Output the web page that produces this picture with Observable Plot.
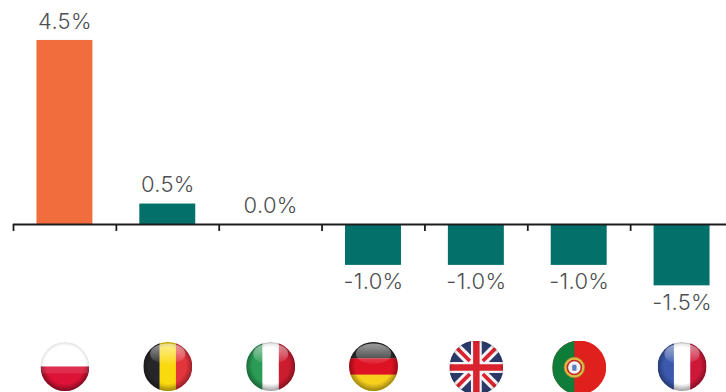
<!DOCTYPE html>
<html>
<head>
<meta charset="utf-8">
<style>
  html, body { margin: 0; padding: 0; background: #fff; }
  svg { display: block; }
</style>
<script src="https://cdn.jsdelivr.net/npm/d3@7"></script>
<script src="https://cdn.jsdelivr.net/npm/@observablehq/plot@0.6"></script>
</head>
<body>
<div id="chart"></div>
<script>
// Percentage change by country
const countries = ["Poland", "Belgium", "Italy", "Germany", "United Kingdom", "Portugal", "France"];
const changes = [4.5, 0.5, 0.0, -1.0, -1.0, -1.0, -1.5];

const rows = countries.map((country, i) => ({country, change: changes[i]}));

const width = 726;
const height = 392;
const rangeLeft = 13;
const rangeRight = 733;
const halfStep = (rangeRight - rangeLeft) / countries.length / 2;
const labelFont = {fontFamily: "Inter, 'DejaVu Sans', sans-serif", fontSize: 22, fontWeight: 300, fill: "#4d4f52"};

// Round flag artwork: each flag is a small SVG with a glossy sphere overlay
function stripes(list, vertical) {
  const n = list.length;
  return list.map((c, i) => vertical
    ? `<rect x="${i * 100 / n}" y="0" width="${100 / n + 0.5}" height="100" fill="${c}"/>`
    : `<rect x="0" y="${i * 100 / n}" width="100" height="${100 / n + 0.5}" fill="${c}"/>`).join("");
}
const gloss = `
  <circle cx="50" cy="50" r="50" fill="url(#edge)"/>
  <ellipse cx="50" cy="24" rx="36" ry="21" fill="url(#shine)"/>`;
const flat = `<circle cx="50" cy="50" r="50" fill="url(#soft)"/>`;

const unionJack = `
  <rect width="100" height="100" fill="#2b3a6b"/>
  <path d="M0 0L100 100M100 0L0 100" stroke="#f4f4f6" stroke-width="18"/>
  <path d="M8 8L38 38M92 8L62 38M8 92L38 62M92 92L62 62" stroke="#d9232e" stroke-width="7"/>
  <path d="M50 0V100M0 50H100" stroke="#f4f4f6" stroke-width="20"/>
  <path d="M50 0V100M0 50H100" stroke="#d9232e" stroke-width="12"/>`;

const portugal = `
  <rect width="100" height="100" fill="#e0201c"/>
  <rect width="41" height="100" fill="#0e7d3a"/>
  <circle cx="41" cy="50" r="19" fill="#e0bb45" stroke="#a8862a" stroke-width="1.5"/>
  <circle cx="41" cy="50" r="13" fill="#f3f3f3" stroke="#c22a2a" stroke-width="3"/>
  <rect x="37" y="45" width="8" height="11" rx="2" fill="#5a7fc0"/>`;

const flagArt = {
  // White upper half nearly blends into the page; the shading is strongest on the red half
  "Poland": stripes(["#ffffff", "#dc1236"]) +
    `<circle cx="50" cy="50" r="50" fill="url(#soft)"/>` +
    `<path d="M0 50H100V100H0Z" fill="url(#edge)"/><rect x="0" y="50" width="100" height="14" fill="#fff" opacity="0.12"/>`,
  "Belgium": stripes(["#26262a", "#fbd90f", "#e4343c"], true) + gloss,
  "Italy": stripes(["#2a9c55", "#ffffff", "#cc1c30"], true) + gloss,
  "Germany": stripes(["#2b2b2b", "#dd1222", "#f7cf1d"]) + gloss,
  "United Kingdom": unionJack + flat,
  "Portugal": portugal,
  "France": stripes(["#3a59ad", "#ffffff", "#cf1838"], true) + gloss
};

function flagUrl(country) {
  const svg = `<svg xmlns="http://www.w3.org/2000/svg" viewBox="0 0 100 100" width="200" height="200">
    <defs>
      <clipPath id="disc"><circle cx="50" cy="50" r="50"/></clipPath>
      <radialGradient id="edge" gradientUnits="userSpaceOnUse" cx="50" cy="48" r="52">
        <stop offset="0.72" stop-color="#000" stop-opacity="0"/>
        <stop offset="1" stop-color="#000" stop-opacity="0.38"/>
      </radialGradient>
      <linearGradient id="shine" x1="0" y1="0" x2="0" y2="1">
        <stop offset="0" stop-color="#fff" stop-opacity="0.55"/>
        <stop offset="1" stop-color="#fff" stop-opacity="0.05"/>
      </linearGradient>
      <radialGradient id="soft" gradientUnits="userSpaceOnUse" cx="50" cy="50" r="50">
        <stop offset="0.85" stop-color="#000" stop-opacity="0"/>
        <stop offset="1" stop-color="#000" stop-opacity="0.12"/>
      </radialGradient>
    </defs>
    <g clip-path="url(#disc)">${flagArt[country]}</g>
  </svg>`;
  return "data:image/svg+xml;utf8," + encodeURIComponent(svg);
}

const largeFlags = new Set(["United Kingdom", "Portugal"]);

const chart = Plot.plot({
  width,
  height,
  marginTop: 0,
  marginBottom: 0,
  marginLeft: rangeLeft,
  marginRight: 0,
  style: {background: "#fff", letterSpacing: "0.3px"},
  x: {type: "band", domain: countries, range: [rangeLeft, rangeRight], round: false, paddingInner: 0.456, paddingOuter: 0.228, axis: null},
  y: {domain: [-4.108, 5.477], range: [height, 0], axis: null},
  marks: [
    Plot.barY(rows, {
      x: "country",
      y: "change",
      fill: d => d.change > 1 ? "#f26d3d" : "#04706a"
    }),
    Plot.ruleY([0], {stroke: "#1c1c1c", strokeWidth: 1.8}),
    // Ticks sit on the band edges, below the baseline
    Plot.ruleX(rows, {x: "country", y1: 0, y2: -0.17, dx: -halfStep, stroke: "#1c1c1c", strokeWidth: 1.8}),
    Plot.text(rows.filter(d => d.change >= 0), {
      x: "country", y: "change", dy: -19,
      text: d => d.change.toFixed(1) + "%",
      ...labelFont
    }),
    Plot.text(rows.filter(d => d.change < 0), {
      x: "country", y: "change", dy: 17,
      text: d => d.change.toFixed(1) + "%",
      ...labelFont
    }),
    Plot.image(rows.filter(d => !largeFlags.has(d.country)), {
      x: "country", frameAnchor: "bottom", dy: -26,
      src: d => flagUrl(d.country), width: 49, height: 49
    }),
    Plot.image(rows.filter(d => largeFlags.has(d.country)), {
      x: "country", frameAnchor: "bottom", dy: -25,
      src: d => flagUrl(d.country), width: 54, height: 54
    })
  ]
});

document.getElementById("chart").append(chart);
</script>
</body>
</html>
